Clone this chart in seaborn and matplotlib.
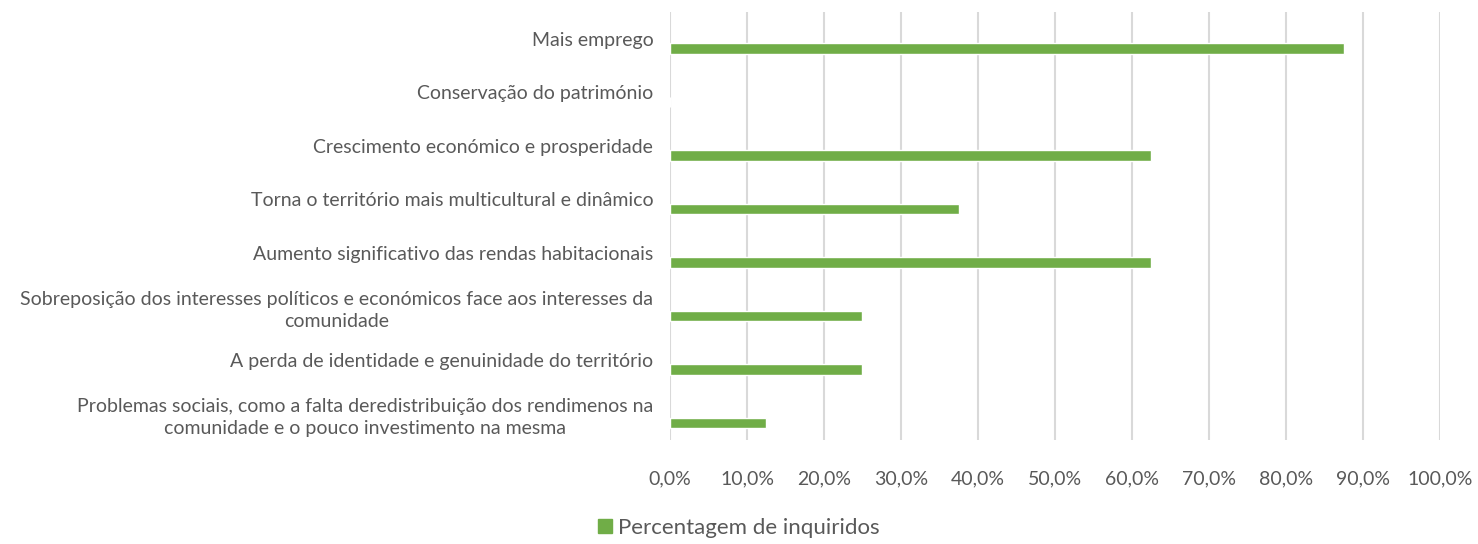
import numpy as np
import pandas as pd
import seaborn as sns
import matplotlib.pyplot as plt
from matplotlib.patches import Patch
from matplotlib.ticker import FuncFormatter, MultipleLocator

categorias = [
    "Mais emprego",
    "Conservação do património",
    "Crescimento económico e prosperidade",
    "Torna o território mais multicultural e dinâmico",
    "Aumento significativo das rendas habitacionais",
    "Sobreposição dos interesses políticos e económicos face aos interesses da\ncomunidade",
    "A perda de identidade e genuinidade do território",
    "Problemas sociais, como a falta deredistribuição dos rendimenos na\ncomunidade e o pouco investimento na mesma",
]
percentagens = [87.5, 0.0, 62.5, 37.5, 62.5, 25.0, 25.0, 12.5]
serie = "Percentagem de inquiridos"

verde = "#70AD47"
cinza = "#595959"

sns.set_style("white")
plt.rcParams["font.family"] = ["Lato", "DejaVu Sans"]

df = pd.DataFrame({"pos": np.arange(len(categorias)) + 0.18, "valor": percentagens})

fig = plt.figure(figsize=(14.78, 5.44), dpi=100)
ax = fig.add_axes([0.4533, 0.191, 0.521, 0.787])

sns.barplot(data=df, x="valor", y="pos", orient="h", native_scale=True,
            width=0.2, color=verde, saturation=1, ax=ax)

ax.set_xlim(0, 100)
ax.set_ylim(len(categorias) - 0.5, -0.5)
ax.xaxis.set_major_locator(MultipleLocator(10))
ax.xaxis.set_major_formatter(FuncFormatter(lambda v, p: f"{v:.1f}%".replace(".", ",")))
ax.grid(axis="x", color="#d9d9d9", linewidth=1.5)
ax.set_axisbelow(True)
for s in ax.spines.values():
    s.set_visible(False)

ax.set_yticks(np.arange(len(categorias)))
ax.set_yticklabels(categorias)
for lbl in ax.get_yticklabels():
    lbl.set_multialignment("center")
    lbl.set_linespacing(1.35)
ax.tick_params(axis="y", length=0, pad=12, labelsize=14, labelcolor=cinza)
ax.tick_params(axis="x", length=0, pad=22, labelsize=14, labelcolor=cinza)
ax.set_xlabel("")
ax.set_ylabel("")

fig.legend(handles=[Patch(color=verde, label=serie)], loc="lower center",
           bbox_to_anchor=(0.5, -0.025), frameon=False, fontsize=16,
           handlelength=0.6, handleheight=0.6, handletextpad=0.3,
           labelcolor=cinza)

fig.savefig("out.png", dpi=100)
